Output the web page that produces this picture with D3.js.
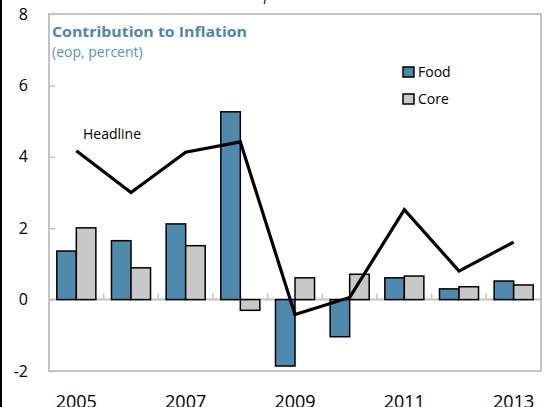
<!DOCTYPE html>
<html>
<head>
<meta charset="utf-8">
<script src="https://cdn.jsdelivr.net/npm/d3@7"></script>
<style>
  body { margin: 0; background: #fff; }
  svg { display: block; font-family: "Open Sans", sans-serif; }
</style>
</head>
<body>
<svg width="545" height="407"></svg>
<script>
// data
const years = ['2005', '2006', '2007', '2008', '2009', '2010', '2011', '2012', '2013'];
const food = [1.36, 1.65, 2.12, 5.26, -1.86, -1.04, 0.61, 0.30, 0.52];
const core = [2.01, 0.89, 1.51, -0.30, 0.61, 0.71, 0.66, 0.36, 0.41];
const headline = [4.17, 3.0, 4.13, 4.42, -0.42, 0.06, 2.52, 0.80, 1.61];
const yTicks = [-2, 0, 2, 4, 6, 8];
const xLabels = ['2005', '2007', '2009', '2011', '2013'];

const margin = { top: 14, right: 4, bottom: 36, left: 49 },
  width = 545 - margin.left - margin.right,
  height = 407 - margin.top - margin.bottom;

const svg = d3.select('svg');

// black edge of the cropped page on the left
svg.append('line')
  .attr('x1', 1).attr('x2', 1).attr('y1', 0).attr('y2', 407)
  .attr('stroke', '#000').attr('stroke-width', 2);

// cut-off header text at the very top
svg.append('text')
  .attr('x', 264).attr('y', 0)
  .attr('font-size', 14).attr('font-style', 'italic')
  .text('percent');

const g = svg.append('g')
  .attr('transform', `translate(${margin.left}, ${margin.top})`);

const x = d3.scaleBand().domain(years).range([0, width]).padding(0);
const y = d3.scaleLinear().domain([-2, 8]).range([height, 0]);
const xs = d3.scaleBand().domain(['food', 'core']).range([0, x.bandwidth()]).paddingOuter(0.4).paddingInner(0);

// frame
g.append('rect')
  .attr('x', 0).attr('y', 0)
  .attr('width', width).attr('height', height)
  .attr('fill', 'none')
  .attr('stroke', '#c4c4c4').attr('stroke-width', 2);

// y axis
const yAxis = d3.axisLeft(y).tickValues(yTicks).tickFormat(d => String(d))
  .tickSizeInner(-6).tickSizeOuter(0).tickPadding(21);
const ya = g.append('g').call(yAxis);
ya.select('.domain').remove();
ya.selectAll('.tick line').attr('stroke', '#c4c4c4').attr('stroke-width', 1.5);
ya.selectAll('.tick text').attr('font-size', 16).attr('fill', '#000')
  .attr('font-family', '"Open Sans", sans-serif');

// zero line with small ticks between years
g.append('line')
  .attr('x1', 0).attr('x2', width)
  .attr('y1', y(0)).attr('y2', y(0))
  .attr('stroke', '#c4c4c4').attr('stroke-width', 2);

g.selectAll('.xtick')
  .data(years.slice(1))
  .enter()
  .append('line')
  .attr('class', 'xtick')
  .attr('x1', d => x(d)).attr('x2', d => x(d))
  .attr('y1', y(0)).attr('y2', y(0) - 6)
  .attr('stroke', '#c4c4c4').attr('stroke-width', 1.5);

// bars
const bars = years.map((yr, i) => ({ year: yr, food: food[i], core: core[i] }));
const colors = { food: '#4d8aad', core: '#c8c8c8' };

['food', 'core'].forEach(key => {
  g.selectAll('.bar-' + key)
    .data(bars)
    .enter()
    .append('rect')
    .attr('class', 'bar-' + key)
    .attr('x', d => x(d.year) + xs(key))
    .attr('y', d => y(Math.max(0, d[key])))
    .attr('width', xs.bandwidth())
    .attr('height', d => Math.abs(y(d[key]) - y(0)))
    .attr('fill', colors[key])
    .attr('stroke', '#000')
    .attr('stroke-width', 1.5);
});

// headline line
const line = d3.line()
  .x((d, i) => x(years[i]) + x.bandwidth() / 2)
  .y(d => y(d));

g.append('path')
  .datum(headline)
  .attr('d', line)
  .attr('fill', 'none')
  .attr('stroke', '#000')
  .attr('stroke-width', 3.2)
  .attr('stroke-linejoin', 'miter');

g.append('text')
  .attr('x', 34).attr('y', 125)
  .attr('font-size', 14)
  .text('Headline');

// x labels
g.selectAll('.xlabel')
  .data(xLabels)
  .enter()
  .append('text')
  .attr('class', 'xlabel')
  .attr('x', d => x(d) + x.bandwidth() / 2)
  .attr('y', height + 37)
  .attr('text-anchor', 'middle')
  .attr('font-size', 18)
  .text(d => d);

// title
g.append('text')
  .attr('x', 3).attr('y', 23)
  .attr('font-size', 14).attr('font-weight', 'bold')
  .attr('fill', '#4f86b3')
  .attr('textLength', 195).attr('lengthAdjust', 'spacingAndGlyphs')
  .text('Contribution to Inflation');

g.append('text')
  .attr('x', 3).attr('y', 43)
  .attr('font-size', 14)
  .attr('fill', '#5a93c2')
  .text('(eop, percent)');

// legend
const legend = g.append('g').attr('transform', 'translate(354, 53)');
['Food', 'Core'].forEach((name, i) => {
  const row = legend.append('g').attr('transform', `translate(0, ${i * 27})`);
  row.append('rect')
    .attr('x', 0).attr('y', 0).attr('width', 11).attr('height', 10)
    .attr('fill', i === 0 ? colors.food : colors.core)
    .attr('stroke', '#000').attr('stroke-width', 1.5);
  row.append('text')
    .attr('x', 15).attr('y', 10)
    .attr('font-size', 14)
    .text(name);
});
</script>
</body>
</html>
